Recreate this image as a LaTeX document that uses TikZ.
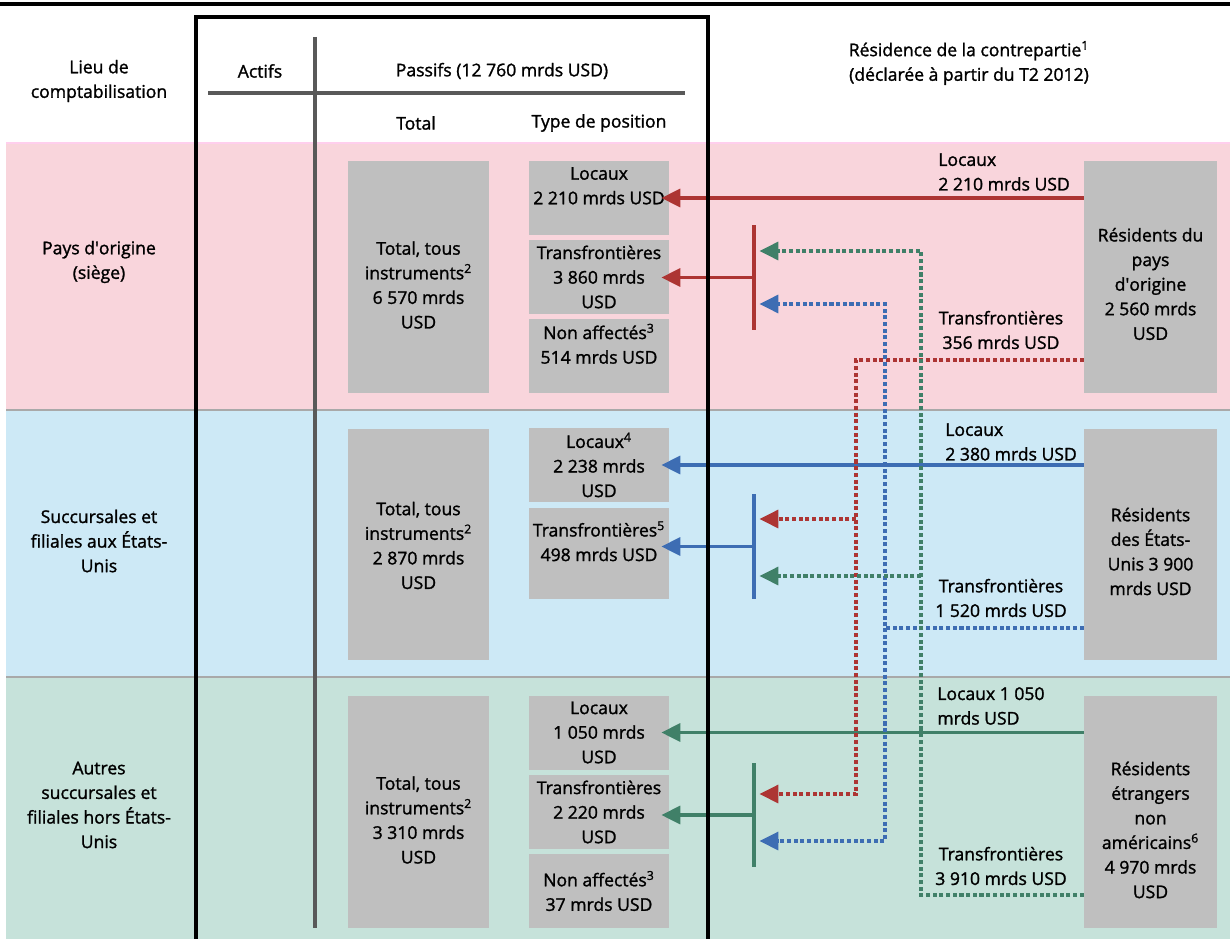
\documentclass[tikz,border=0pt]{standalone}
\usepackage{fontspec}
\setmainfont{Open Sans}[FakeBold=1.4]
\usepackage{xcolor}
\usetikzlibrary{arrows.meta,calc}

\definecolor{bandred}{HTML}{F9D5DC}
\definecolor{bandblue}{HTML}{CDE9F6}
\definecolor{bandgreen}{HTML}{C6E2DA}
\definecolor{bandedge}{HTML}{A9A9A9}
\definecolor{boxgray}{HTML}{BFBFBF}
\definecolor{rulegray}{HTML}{595959}
\definecolor{flowred}{HTML}{AD3533}
\definecolor{flowblue}{HTML}{3D6DB3}
\definecolor{flowgreen}{HTML}{408068}

\begin{document}
\begin{tikzpicture}[
    x=0.02cm, y=-0.02cm,
    every node/.style={font=\fontsize{10}{14}\selectfont,align=center,inner sep=0pt},
    cell/.style={fill=boxgray,minimum width=2.8cm,minimum height=1.48cm},
    tall/.style={cell,minimum width=2.82cm,minimum height=4.64cm},
    resid/.style={tall,minimum width=2.66cm},
    vbar/.style={minimum width=2.3pt,minimum height=2.1cm},
    gridrule/.style={line width=2.2pt,rulegray},
    boxframe/.style={line width=2.3pt,black},
    flowline/.style={line width=1.9pt,-{Triangle[length=10.8pt,width=10.2pt]}},
    crossline/.style={line width=1.9pt,dash pattern=on 2.3pt off 1.5pt,
                      -{Triangle[length=10.8pt,width=10.2pt]}}
]
\useasboundingbox (0,0) rectangle (1230,939);

% Bands
\fill[bandred] (6,143) rectangle (1230,410);
\fill[bandblue] (6,410) rectangle (1230,677);
\fill[bandgreen] (6,677) rectangle (1230,939);
\draw[pink!70!magenta!40,line width=0.8pt] (6,143) -- (1230,143);
\draw[bandedge,line width=1pt] (6,410) -- (1230,410);
\draw[bandedge,line width=1pt] (6,677) -- (1230,677);

% Header
\node (lieu) at (99,81) {Lieu de\\comptabilisation};
\node (actifs) at (260,71) {Actifs};
\node (passifs) at (502,71) {Passifs (12 760 mrds USD)};
\node (total) at (416,123) {Total};
\node (typepos) at (599,123) {Type de position};
\node (contrep) at (969,63) {Résidence de la contrepartie\textsuperscript{1}\\(déclarée à partir du T2 2012)};
\draw[gridrule] (315,37) -- (315,928);
\draw[gridrule] (208,93) -- (685,93);

% Rows
\node (home) at (99,262) {Pays d\textquotesingle origine\\(siège)};
\node (us) at (99,541) {Succursales et\\filiales aux États-\\Unis};
\node (other) at (99,805) {Autres\\succursales et\\filiales hors États-\\Unis};

% Totals
\node[tall] (T1) at (418.5,277) {};
\node[tall] (T2) at (418.5,544.5) {};
\node[tall] (T3) at (418.5,812) {};
\node (T1t) at ($(T1)+(0,8)$) {Total, tous\\instruments\textsuperscript{2}\\6 570 mrds\\USD};
\node (T2t) at ($(T2)+(0,1)$) {Total, tous\\instruments\textsuperscript{2}\\2 870 mrds\\USD};
\node (T3t) at ($(T3)+(0,8)$) {Total, tous\\instruments\textsuperscript{2}\\3 310 mrds\\USD};

% Position types
\node[cell] (L1) at (599,198) {Locaux\\2 210 mrds USD\\\mbox{}};
\node[cell] (X1) at (599,277) {Transfrontières\\3 860 mrds\\USD};
\node[cell] (N1) at (599,356) {Non affectés\textsuperscript{3}\\514 mrds USD\\\mbox{}};
\node[cell] (L2) at (599,465) {Locaux\textsuperscript{4}\\2 238 mrds\\USD};
\node[cell,minimum height=1.82cm] (X2) at (599,553.5) {Transfrontières\textsuperscript{5}\\498 mrds USD\\\mbox{}};
\node[cell] (L3) at (599,732.5) {Locaux\\1 050 mrds\\USD};
\node[cell] (X3) at (599,812) {Transfrontières\\2 220 mrds\\USD};
\node[cell] (N3) at (599,891) {Non affectés\textsuperscript{3}\\37 mrds USD};

% Counterparty residence
\node[resid] (R1) at (1150.5,277) {};
\node[resid] (R2) at (1150.5,544.5) {};
\node[resid] (R3) at (1150.5,812) {};
\node (R1t) at ($(R1)+(0,7)$) {Résidents du\\pays\\d\textquotesingle origine\\2 560 mrds\\USD};
\node (R2t) at ($(R2)+(0,7)$) {Résidents\\des États-\\Unis 3 900\\mrds USD};
\node (R3t) at ($(R3)+(0,18)$) {Résidents\\étrangers\\non\\américains\textsuperscript{6}\\4 970 mrds\\USD};

% Bars collecting cross-border flows
\node[vbar,fill=flowred] (barR) at (754,277.5) {};
\node[vbar,fill=flowblue] (barB) at (754,546.5) {};
\node[vbar,fill=flowgreen] (barG) at (754,815) {};

% Local flows
\draw[flowline,flowred] (R1.west |- L1.east) -- ($(L1.east)+(-8,0)$);
\draw[flowline,flowblue] (R2.west |- L2.east) -- ($(L2.east)+(-8,0)$);
\draw[flowline,flowgreen] (R3.west |- L3.east) -- ($(L3.east)+(-8,0)$);
\draw[flowline,flowred] (barR.center) -- ($(X1.east |- barR.center)+(-8,0)$);
\draw[flowline,flowblue] (barB.center) -- ($(X2.east |- barB.center)+(-8,0)$);
\draw[flowline,flowgreen] (barG.center) -- ($(X3.east |- barG.center)+(-8,0)$);

\node[anchor=west,align=left] (lblLR) at (938,172) {Locaux\\2 210 mrds USD};
\node[anchor=west,align=left] (lblLB) at (945,442) {Locaux\\2 380 mrds USD};
\node[anchor=west,align=left] (lblLG) at (937,706) {Locaux 1 050\\mrds USD};

% Cross-border flows
\coordinate (jR) at (856,360);
\coordinate (jB) at (885,628);
\coordinate (jG) at (921,895);
\coordinate (gR) at ($(barR.east)+(3,-26.5)$);
\coordinate (bR) at ($(barR.east)+(3,26.5)$);
\coordinate (rB) at ($(barB.east)+(3,-27.5)$);
\coordinate (gB) at ($(barB.east)+(3,29.5)$);
\coordinate (rG) at ($(barG.east)+(3,-21)$);
\coordinate (bG) at ($(barG.east)+(3,26)$);

\draw[crossline,flowred] (R1.west |- jR) -- (jR) |- (rG);
\draw[crossline,flowred] (jR |- rB) -- (rB);
\draw[crossline,flowblue] (R2.west |- jB) -- (jB) |- (bR);
\draw[crossline,flowblue] (jB) |- (bG);
\draw[crossline,flowgreen] (R3.west |- jG) -- (jG) |- (gR);
\draw[crossline,flowgreen] (jG |- gB) -- (gB);

\node (lblXR) at (1001,330) {Transfrontières\\356 mrds USD};
\node (lblXB) at (1001,598) {Transfrontières\\1 520 mrds USD};
\node (lblXG) at (1001,866) {Transfrontières\\3 910 mrds USD};

% Liabilities frame
\draw[boxframe] (0,4) -- (1230,4);
\draw[boxframe] (196,950) -- (196,17) -- (708,17) -- (708,950);

\end{tikzpicture}
\end{document}
